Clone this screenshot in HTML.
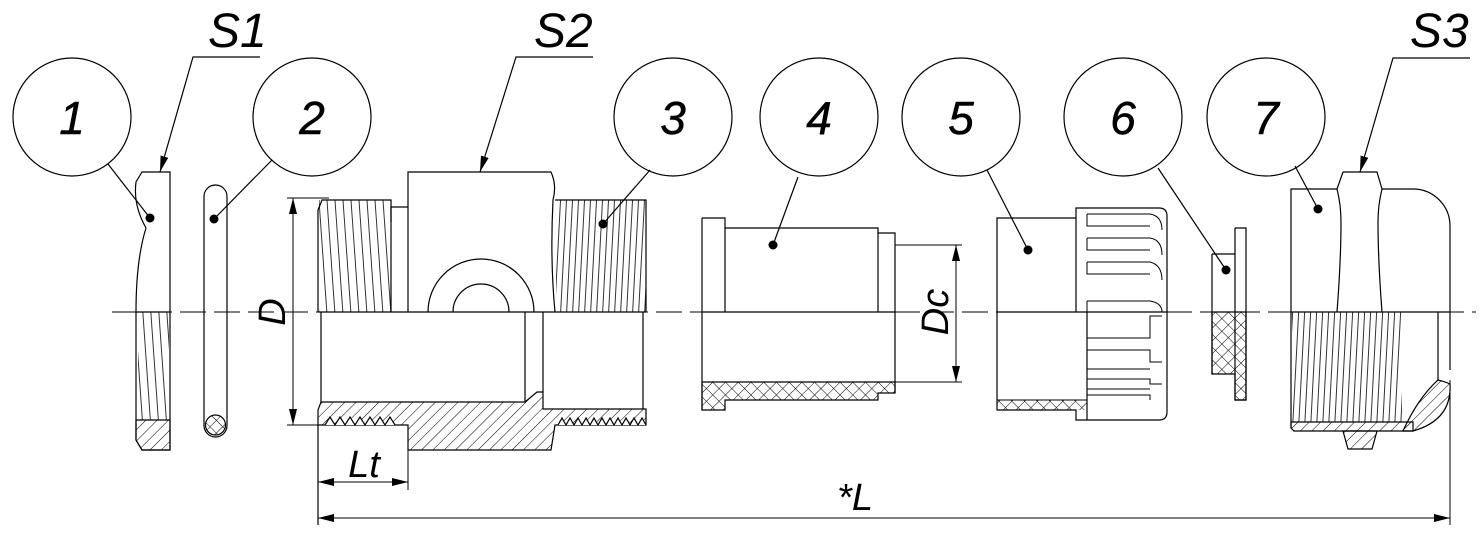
<!DOCTYPE html>
<html><head><meta charset="utf-8"><style>
html,body{margin:0;padding:0;background:#fff}
svg{display:block}
text{font-family:"Liberation Sans",sans-serif;font-style:italic;fill:#000}
</style></head><body>
<svg width="1482" height="544" viewBox="0 0 1482 544" xmlns="http://www.w3.org/2000/svg">
<defs>
<pattern id="h" width="8" height="8" patternUnits="userSpaceOnUse" patternTransform="rotate(45)"><line x1="0" y1="0" x2="0" y2="8" stroke="#000" stroke-width="1"/></pattern>
<pattern id="x" width="9" height="9" patternUnits="userSpaceOnUse" patternTransform="rotate(45)"><line x1="0" y1="0" x2="0" y2="9" stroke="#000" stroke-width="1"/><line x1="0" y1="0" x2="9" y2="0" stroke="#000" stroke-width="1"/></pattern>
<pattern id="t" width="8" height="20" patternUnits="userSpaceOnUse" patternTransform="skewX(4)"><line x1="1" y1="0" x2="1" y2="20" stroke="#000" stroke-width="0.8"/></pattern>
<pattern id="t2" width="6" height="20" patternUnits="userSpaceOnUse" patternTransform="skewX(-3)"><line x1="1" y1="0" x2="1" y2="20" stroke="#000" stroke-width="0.8"/></pattern>
<marker id="a" markerWidth="16" markerHeight="8" refX="16" refY="4" orient="auto" markerUnits="userSpaceOnUse"><path d="M0,0 L16,4 L0,8 Z" fill="#000"/></marker>
<marker id="as" markerWidth="16" markerHeight="8" refX="0" refY="4" orient="auto" markerUnits="userSpaceOnUse"><path d="M16,0 L0,4 L16,8 Z" fill="#000"/></marker>
</defs>
<g fill="none" stroke="#000" stroke-width="1.2">
<circle cx="72" cy="117" r="59"/><circle cx="312" cy="117" r="59"/><circle cx="673" cy="117" r="59"/>
<circle cx="819" cy="117" r="59"/><circle cx="961" cy="117" r="59"/><circle cx="1123" cy="117" r="59"/><circle cx="1266" cy="117" r="59"/>
<line x1="108" y1="164" x2="150" y2="218"/>
<line x1="272" y1="160" x2="214" y2="219"/>
<line x1="650" y1="170" x2="603" y2="224"/>
<line x1="798" y1="177" x2="773" y2="245"/>
<line x1="987" y1="170" x2="1028" y2="250"/>
<line x1="1158" y1="168" x2="1226" y2="270"/>
<line x1="1295" y1="166" x2="1318" y2="209"/>
<polyline points="260,57 193,57 160,172" marker-end="url(#a)"/>
<polyline points="593,57 516,57 480,172" marker-end="url(#a)"/>
<polyline points="1470,58 1393,58 1360,172" marker-end="url(#a)"/>
</g>
<g fill="#000">
<circle cx="150" cy="218" r="4.5"/><circle cx="214" cy="219" r="4.5"/><circle cx="603" cy="224" r="4.5"/>
<circle cx="773" cy="245" r="4.5"/><circle cx="1028" cy="250" r="4.5"/><circle cx="1226" cy="270" r="4.5"/><circle cx="1318" cy="209" r="4.5"/>
</g>
<line x1="112" y1="312" x2="1476" y2="312" stroke="#000" stroke-width="1" stroke-dasharray="26 8"/>
<g stroke="#000" stroke-width="1.2">
<rect x="138" y="312" width="31" height="108" fill="url(#t)" stroke="none"/>
<path d="M136,420 L170,420 L170,450 L142,450 L136,440 Z" fill="url(#h)"/>
<path d="M142,172 L136,182 Q133,205 146,228 Q136,260 136,312 L136,440 L142,450 L170,450 L170,172 Z" fill="none"/>
<line x1="136" y1="312" x2="170" y2="312"/>
<rect x="204" y="185" width="23" height="252" rx="11.5" fill="none"/>
<circle cx="215.5" cy="425" r="10" fill="url(#x)"/>
<rect x="319" y="200" width="72" height="112" fill="url(#t)" stroke="none"/>
<path d="M318,312 L318,210 L322,200 L391,200 L391,312" fill="none"/>
<path d="M391,207 L408,207" fill="none"/><line x1="391" y1="207" x2="391" y2="222"/>
<path d="M408,312 L408,172 L551,172 Q557,185 553,200 Q550,260 555,312" fill="none"/>
<rect x="556" y="200" width="90" height="112" fill="url(#t2)" stroke="none"/>
<path d="M555,200 L646,200 L646,312" fill="none"/>
<path d="M428,312 A53,53 0 0 1 534,312" fill="none"/>
<path d="M453,312 A28,28 0 0 1 509,312" fill="none"/>
<line x1="318" y1="312" x2="646" y2="312"/>
<path d="M321,402 L525,402 L537,392 L543,392 L543,409 L646,409 L646,425 L555,425 L551,450 L408,450 L408,425 L318,425 L318,410 L321,402 Z" fill="url(#h)"/>
<path d="M318,425 L318,525" fill="none"/>
<path d="M321,312 L321,402 M525,312 L525,402 M543,312 L543,392 M643,312 L643,409" fill="none"/>
<path d="M325,425 l5,-8 l5,8 l5,-8 l5,8 l5,-8 l5,8 l5,-8 l5,8 l5,-8 l5,8 l5,-8 l5,8 l5,-8 l5,8 M558,425 l4,-7 l4,7 l4,-7 l4,7 l4,-7 l4,7 l4,-7 l4,7 l4,-7 l4,7 l4,-7 l4,7 l4,-7 l4,7 l4,-7 l4,7 l4,-7 l4,7 l4,-7 l4,7 l4,-7 l4,7" fill="#fff"/>
<line x1="287" y1="198" x2="329" y2="198" stroke-width="1"/><line x1="287" y1="425" x2="318" y2="425" stroke-width="1"/>
<line x1="293" y1="198" x2="293" y2="425" stroke-width="1" marker-start="url(#as)" marker-end="url(#a)"/>
<line x1="408" y1="450" x2="408" y2="490" stroke-width="1"/>
<line x1="318" y1="482" x2="408" y2="482" stroke-width="1" marker-start="url(#as)" marker-end="url(#a)"/>
<line x1="1450" y1="380" x2="1450" y2="525" stroke-width="1"/>
<line x1="318" y1="518" x2="1450" y2="518" stroke-width="1" marker-start="url(#as)" marker-end="url(#a)"/>
<path d="M702,382 L895,382 L895,393 L878,393 L878,400 L725,400 L725,410 L702,410 Z" fill="url(#x)"/>
<path d="M702,218 L725,218 L725,228 L878,228 L878,233 L895,233 L895,393 M702,218 L702,410" fill="none"/>
<line x1="725" y1="228" x2="725" y2="312"/><line x1="878" y1="233" x2="878" y2="312"/>
<line x1="702" y1="312" x2="895" y2="312"/>
<line x1="895" y1="245" x2="962" y2="245" stroke-width="1"/><line x1="895" y1="382" x2="962" y2="382" stroke-width="1"/>
<line x1="956" y1="245" x2="956" y2="382" stroke-width="1" marker-start="url(#as)" marker-end="url(#a)"/>
<rect x="997" y="400" width="90" height="10" fill="url(#x)" stroke="none"/>
<path d="M997,218 L1076,218 L1076,208 L1159,208 Q1167,208 1167,216 L1167,412 Q1167,420 1159,420 L1076,420 L1076,410 L997,410 Z" fill="none"/>
<line x1="997" y1="400" x2="1087" y2="400" stroke-width="1"/>
<line x1="1076" y1="218" x2="1076" y2="312"/><line x1="997" y1="312" x2="1167" y2="312"/>
<line x1="1087" y1="312" x2="1087" y2="420"/>
<path d="M1087,214 L1150,214 Q1162,216 1162,230 M1087,214 L1087,226 L1150,226" fill="none" stroke-width="1"/>
<path d="M1087,238 L1150,238 Q1162,240 1162,255 M1087,238 L1087,250 L1150,250" fill="none" stroke-width="1"/>
<path d="M1087,262 L1150,262 Q1162,265 1162,280 M1087,262 L1087,274 L1150,274" fill="none" stroke-width="1"/>
<path d="M1087,301 L1150,301 Q1162,303 1162,312 M1087,301 L1087,312" fill="none" stroke-width="1"/>
<path d="M1087,338 L1150,338 L1150,316 L1162,316 M1087,338 L1087,350 L1150,350 L1150,362 L1162,362" fill="none" stroke-width="1"/>
<path d="M1087,369 L1150,369 M1087,369 L1087,379 L1150,379 L1150,384 L1162,384" fill="none" stroke-width="1"/>
<path d="M1087,389 L1150,389 M1087,389 L1087,395 L1150,395 L1150,400" fill="none" stroke-width="1"/>
<path d="M1212,312 L1246,312 L1246,400 L1235,400 L1235,374 L1212,374 Z" fill="url(#x)"/>
<path d="M1212,254 L1235,254 M1212,254 L1212,374 M1235,228 L1246,228 L1246,400 L1235,400 L1235,228" fill="none"/>
<rect x="1292" y="312" width="110" height="110" fill="url(#t2)" stroke="none"/>
<path d="M1291,312 L1291,189 L1337,189" fill="none"/>
<path d="M1343,172 L1377,172 L1382,189 Q1378,205 1378,222 Q1378,260 1382,312 M1343,172 L1337,189 Q1341,205 1341,222 Q1341,260 1337,312" fill="none"/>
<path d="M1382,189 L1413,189 A37,37 0 0 1 1450,226 L1450,370" fill="none"/>
<line x1="1438" y1="312" x2="1438" y2="380"/>
<path d="M1438,380 Q1446,382 1450,384 Q1452,420 1413,431 L1403,431 Q1418,398 1438,380 Z" fill="url(#h)"/>
<path d="M1291,422 L1413,422 L1413,431 L1294,431 L1291,428 Z" fill="url(#h)"/>
<path d="M1343,431 L1377,431 L1372,449 L1348,449 Z" fill="url(#h)"/>
<line x1="1291" y1="312" x2="1291" y2="428"/>
<line x1="1291" y1="312" x2="1450" y2="312"/>
</g>
<g font-size="48">
<text x="208" y="47">S1</text>
<text x="534" y="47">S2</text>
<text x="1410" y="47">S3</text>
</g>
<g font-size="46" text-anchor="middle" stroke="#000" stroke-width="0.5">
<text x="72" y="134">1</text><text x="312" y="134">2</text><text x="673" y="134">3</text>
<text x="819" y="134">4</text><text x="961" y="134">5</text><text x="1123" y="134">6</text><text x="1266" y="134">7</text>
</g>
<g font-size="38" text-anchor="middle">
<text transform="translate(285,312) rotate(-90)">D</text>
<text transform="translate(948,312) rotate(-90)">Dc</text>
<text x="364" y="477">Lt</text>
<text x="855" y="510">*L</text>
</g>
</svg>
</body></html>
